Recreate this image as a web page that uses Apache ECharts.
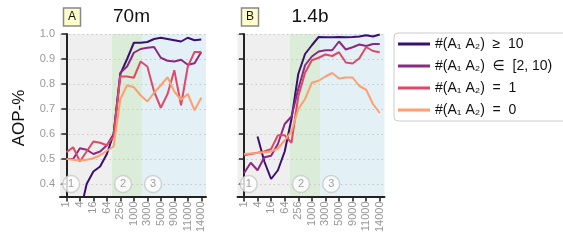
<!DOCTYPE html>
<html>
<head>
<meta charset="utf-8">
<script src="https://cdn.jsdelivr.net/npm/echarts@6/dist/echarts.min.js"></script>
<style>
  html, body { margin: 0; padding: 0; background: #fff; }
  #chart { width: 563px; height: 242px; }
</style>
</head>
<body>
<div id="chart"></div>
<script>
// x steps (only every other one is labelled)
const steps = [1, 2, 4, 8, 16, 32, 64, 128, 256, 512, 1000, 2000, 3000, 4000, 5000, 7000, 9000, 10000, 11000, 12500, 14000]
const yTicks = [0.4, 0.5, 0.6, 0.7, 0.8, 0.9, 1.0]
const seriesNames = ['#(A₁ A₂)  ≥  10', '#(A₁ A₂)  ∈  [2, 10)', '#(A₁ A₂)  =  1', '#(A₁ A₂)  =  0']
const colors = ['#3b0f70', '#8c2981', '#de4968', '#fe9f6d']

// panel A: 70m
const a_ge10 = [null, null, 0.28, 0.40, 0.45, 0.47, 0.52, 0.60, 0.84, 0.90, 0.965, 0.965, 0.968, 0.98, 0.985, 0.98, 0.975, 0.97, 0.985, 0.975, 0.978]
const a_2to10 = [0.50, 0.50, 0.543, 0.537, 0.52, 0.53, 0.555, 0.60, 0.845, 0.87, 0.925, 0.94, 0.945, 0.948, 0.905, 0.893, 0.89, 0.897, 0.877, 0.883, 0.928]
const a_eq1 = [0.527, 0.547, 0.49, 0.53, 0.57, 0.565, 0.555, 0.59, 0.83, 0.83, 0.825, 0.89, 0.87, 0.77, 0.705, 0.76, 0.855, 0.715, 0.87, 0.928, 0.928]
const a_eq0 = [0.50, 0.497, 0.494, 0.497, 0.503, 0.515, 0.533, 0.55, 0.74, 0.795, 0.787, 0.755, 0.73, 0.765, 0.795, 0.827, 0.77, 0.737, 0.76, 0.695, 0.745]

// panel B: 1.4b
const b_ge10 = [null, null, 0.59, 0.49, 0.42, 0.455, 0.53, 0.66, 0.84, 0.92, 0.955, 0.988, 0.987, 0.987, 0.988, 0.987, 0.988, 0.99, 0.995, 0.99, 0.998]
const b_2to10 = [0.443, 0.485, 0.455, 0.507, 0.513, 0.56, 0.64, 0.67, 0.78, 0.875, 0.91, 0.93, 0.935, 0.935, 0.97, 0.938, 0.947, 0.958, 0.952, 0.96, 0.96]
const b_eq1 = [0.515, 0.52, 0.525, 0.53, 0.54, 0.595, 0.595, 0.565, 0.75, 0.845, 0.895, 0.905, 0.918, 0.912, 0.927, 0.886, 0.882, 0.903, 0.948, 0.932, 0.927]
const b_eq0 = [0.52, 0.522, 0.524, 0.527, 0.53, 0.542, 0.575, 0.61, 0.70, 0.74, 0.805, 0.813, 0.83, 0.844, 0.822, 0.826, 0.826, 0.792, 0.777, 0.72, 0.684]

// phase regions (in step index units) and their circled numbers
const phaseEdges = [-0.95, 6.75, 11.2, 20.7]
const phaseColors = ['#efefef', '#dbecd9', '#e3f1f7']
const phaseLabels = ['1', '2', '3']

const font = 'Liberation Sans, Arial, DejaVu Sans, sans-serif'
const X_MIN = -0.95
const X_MAX = 20.7

const chart = echarts.init(document.getElementById('chart'))

const labelled = steps.map((s, i) => i).filter((i) => i % 2 === 0)

const makeX = (gridIndex) => ({
  type: 'value',
  gridIndex,
  min: X_MIN,
  max: X_MAX,
  z: 1.5,
  axisLine: { show: true, lineStyle: { color: '#222', width: 2 } },
  axisTick: { show: true, length: 5, customValues: labelled, lineStyle: { color: '#222', width: 1.5 } },
  axisLabel: {
    customValues: labelled,
    rotate: 90,
    color: '#999',
    fontSize: 11,
    fontFamily: font,
    margin: 5,
    formatter: (v) => String(steps[Math.round(v)]),
  },
  splitLine: { show: false },
})

const makeY = (gridIndex, showLabels) => ({
  type: 'value',
  gridIndex,
  min: 0.35,
  max: 1.0,
  z: 1.5,
  axisLine: { show: true, lineStyle: { color: '#222', width: 2 } },
  axisTick: { show: true, length: 5, customValues: yTicks, lineStyle: { color: '#222', width: 1.5 } },
  axisLabel: {
    show: showLabels,
    customValues: yTicks,
    color: '#999',
    fontSize: 11,
    fontFamily: font,
    margin: 5,
    formatter: (v) => v.toFixed(1),
  },
  splitLine: { show: true, lineStyle: { color: '#c8c8c8', width: 1, type: [1.5, 3] } },
})

const lineSeries = (name, color, values, idx) => ({
  name,
  type: 'line',
  xAxisIndex: idx,
  yAxisIndex: idx,
  data: values.map((v, i) => [i, v]),
  showSymbol: false,
  symbol: 'none',
  connectNulls: false,
  lineStyle: { color, width: 2 },
  itemStyle: { color },
  z: 2,
  animation: false,
})

const shadeSeries = (idx) => ({
  type: 'line',
  xAxisIndex: idx,
  yAxisIndex: idx,
  data: [],
  z: 1,
  silent: true,
  markArea: {
    silent: true,
    data: phaseColors.map((c, k) => [
      { xAxis: phaseEdges[k], yAxis: 0.35, itemStyle: { color: c } },
      { xAxis: phaseEdges[k + 1], yAxis: 1.0 },
    ]),
  },
})

const phaseSeries = (idx) => ({
  type: 'scatter',
  xAxisIndex: idx,
  yAxisIndex: idx,
  z: 3,
  silent: true,
  symbolSize: 17,
  itemStyle: { color: '#fff', borderColor: '#c8c8c8', borderWidth: 1.5 },
  label: { show: true, position: 'inside', color: '#888', fontSize: 11, fontFamily: font, formatter: (p) => p.data[2] },
  data: phaseLabels.map((t, k) => [phaseEdges[k] + 1.65, 0.4, t]),
})

const panels = [
  [a_ge10, a_2to10, a_eq1, a_eq0],
  [b_ge10, b_2to10, b_eq1, b_eq0],
]

const series = []
panels.forEach((vals, idx) => {
  series.push(shadeSeries(idx))
  vals.forEach((v, k) => series.push(lineSeries(seriesNames[k], colors[k], v, idx)))
  series.push(phaseSeries(idx))
})

const panelTag = (x, letter, title, titleX) => [
  {
    type: 'rect',
    shape: { x: x, y: 8, width: 17, height: 18 },
    style: { fill: '#ffffcc', stroke: '#888', lineWidth: 1.5 },
  },
  {
    type: 'text',
    x: x + 8.5,
    y: 17,
    style: { text: letter, fill: '#111', font: '12px ' + font, align: 'center', verticalAlign: 'middle' },
  },
  {
    type: 'text',
    x: titleX,
    y: 17,
    style: { text: title, fill: '#111', font: '19px ' + font, align: 'left', verticalAlign: 'middle' },
  },
]

chart.setOption({
  animation: false,
  grid: [
    { left: 60, top: 34, width: 146, height: 162.5 },
    { left: 237.5, top: 34, width: 147, height: 162.5 },
  ],
  xAxis: [makeX(0), makeX(1)],
  yAxis: [makeY(0, true), makeY(1, false)],
  legend: {
    orient: 'vertical',
    left: 394,
    top: 33,
    data: seriesNames,
    icon: 'rect',
    itemWidth: 32,
    itemHeight: 3,
    itemGap: 6,
    padding: [3, 40, 3, 4],
    backgroundColor: '#fff',
    borderColor: '#cccccc',
    borderWidth: 1,
    borderRadius: 4,
    selectedMode: false,
    textStyle: { fontSize: 14, lineHeight: 16, color: '#111', fontFamily: font },
  },
  graphic: [
    ...panelTag(63.5, 'A', '70m', 113),
    ...panelTag(241.5, 'B', '1.4b', 291.5),
    {
      type: 'text',
      x: 19,
      y: 118,
      rotation: Math.PI / 2,
      style: { text: 'AOP-%', fill: '#111', font: '17px ' + font, align: 'center', verticalAlign: 'middle' },
    },
  ],
  series,
})
</script>
</body>
</html>
